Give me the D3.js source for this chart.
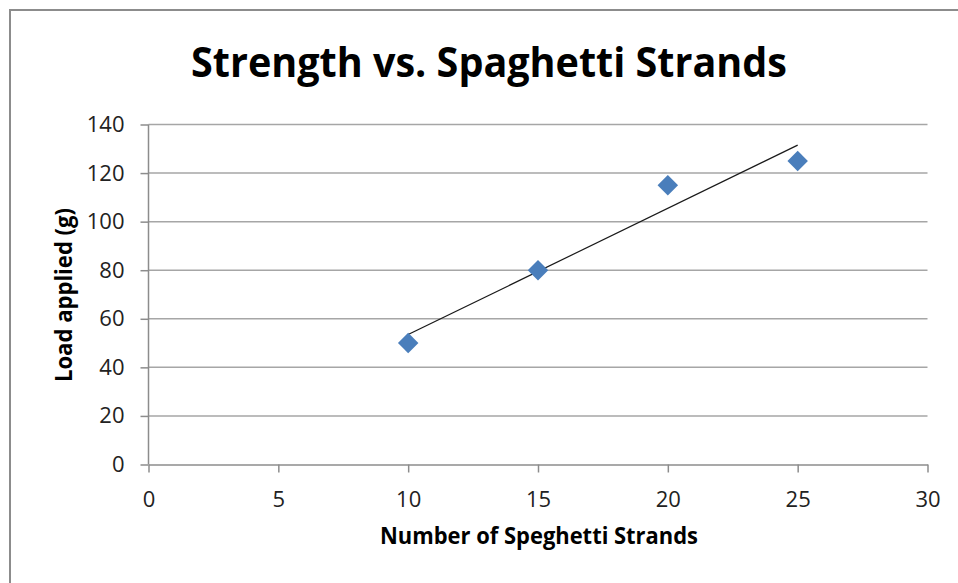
<!DOCTYPE html>
<html><head><meta charset="utf-8">
<script src="https://cdn.jsdelivr.net/npm/d3@7"></script>
<style>body{margin:0;background:#fff}svg{display:block}</style>
</head><body>
<svg id="c" width="958" height="583"></svg>
<script>
const strands = [10, 15, 20, 25];
const load = [50, 80, 115, 125];
const xTicks = [0, 5, 10, 15, 20, 25, 30];
const yTicks = [0, 20, 40, 60, 80, 100, 120, 140];
const title = "Strength vs. Spaghetti Strands";
const xTitle = "Number of Speghetti Strands";
const yTitle = "Load applied (g)";

const svg = d3.select("#c");
const font = "'Open Sans', 'Liberation Sans', sans-serif";
svg.append("rect").attr("x",10).attr("y",10).attr("width",960).attr("height",600)
  .attr("fill","#fff").attr("stroke","#8c8c8c").attr("stroke-width",2);

const x = d3.scaleLinear().domain([0,30]).range([148.5,927.5]);
const y = d3.scaleLinear().domain([0,140]).range([464.5,124.5]);

// gridlines
svg.append("g").selectAll("line").data(yTicks.filter(d=>d>0)).join("line")
  .attr("x1",x(0)).attr("x2",x(30)).attr("y1",d=>y(d)).attr("y2",d=>y(d))
  .attr("stroke","#a6a6a6").attr("stroke-width",1.5);

const gy = svg.append("g").attr("transform",`translate(${x(0)},0)`)
  .call(d3.axisLeft(y).tickValues(yTicks).tickSize(8).tickPadding(16).tickSizeOuter(0));
const gx = svg.append("g").attr("transform",`translate(0,${y(0)})`)
  .call(d3.axisBottom(x).tickValues(xTicks).tickSize(8).tickPadding(19).tickSizeOuter(0));
[gy,gx].forEach(g=>{
  g.selectAll("path,line").attr("stroke","#8c8c8c").attr("stroke-width",1.5);
  g.selectAll("text").attr("font-family",font).attr("font-size",22).attr("fill","#222");
});
gy.select(".domain").attr("d",`M0,${y(140)}V${y(0)}`);

// trendline (linear least squares)
const mx = d3.mean(strands), my = d3.mean(load);
const slope = d3.sum(strands.map((v,i)=>(v-mx)*(load[i]-my))) / d3.sum(strands.map(v=>(v-mx)**2));
const icpt = my - slope*mx;
const x0 = d3.min(strands), x1 = d3.max(strands);
svg.append("line").attr("x1",x(x0)).attr("y1",y(icpt+slope*x0))
  .attr("x2",x(x1)).attr("y2",y(icpt+slope*x1)).attr("stroke","#1a1a1a").attr("stroke-width",1.2);

// markers
svg.append("g").selectAll("path").data(strands).join("path")
  .attr("d",d3.symbol(d3.symbolSquare,210)())
  .attr("transform",(d,i)=>`translate(${x(d)},${y(load[i])}) rotate(45)`)
  .attr("fill","#4a7ebb");

svg.append("text").attr("x",489).attr("y",77).attr("text-anchor","middle")
  .attr("font-family",font).attr("font-weight","bold").attr("font-size",42)
  .attr("textLength",596).attr("lengthAdjust","spacingAndGlyphs").text(title);
svg.append("text").attr("x",539).attr("y",544).attr("text-anchor","middle")
  .attr("font-family",font).attr("font-weight","bold").attr("font-size",23)
  .attr("textLength",318).attr("lengthAdjust","spacingAndGlyphs").text(xTitle);
svg.append("text").attr("transform","translate(72,295) rotate(-90)").attr("text-anchor","middle")
  .attr("font-family",font).attr("font-weight","bold").attr("font-size",23)
  .attr("textLength",174).attr("lengthAdjust","spacingAndGlyphs").text(yTitle);
</script>
</body></html>
